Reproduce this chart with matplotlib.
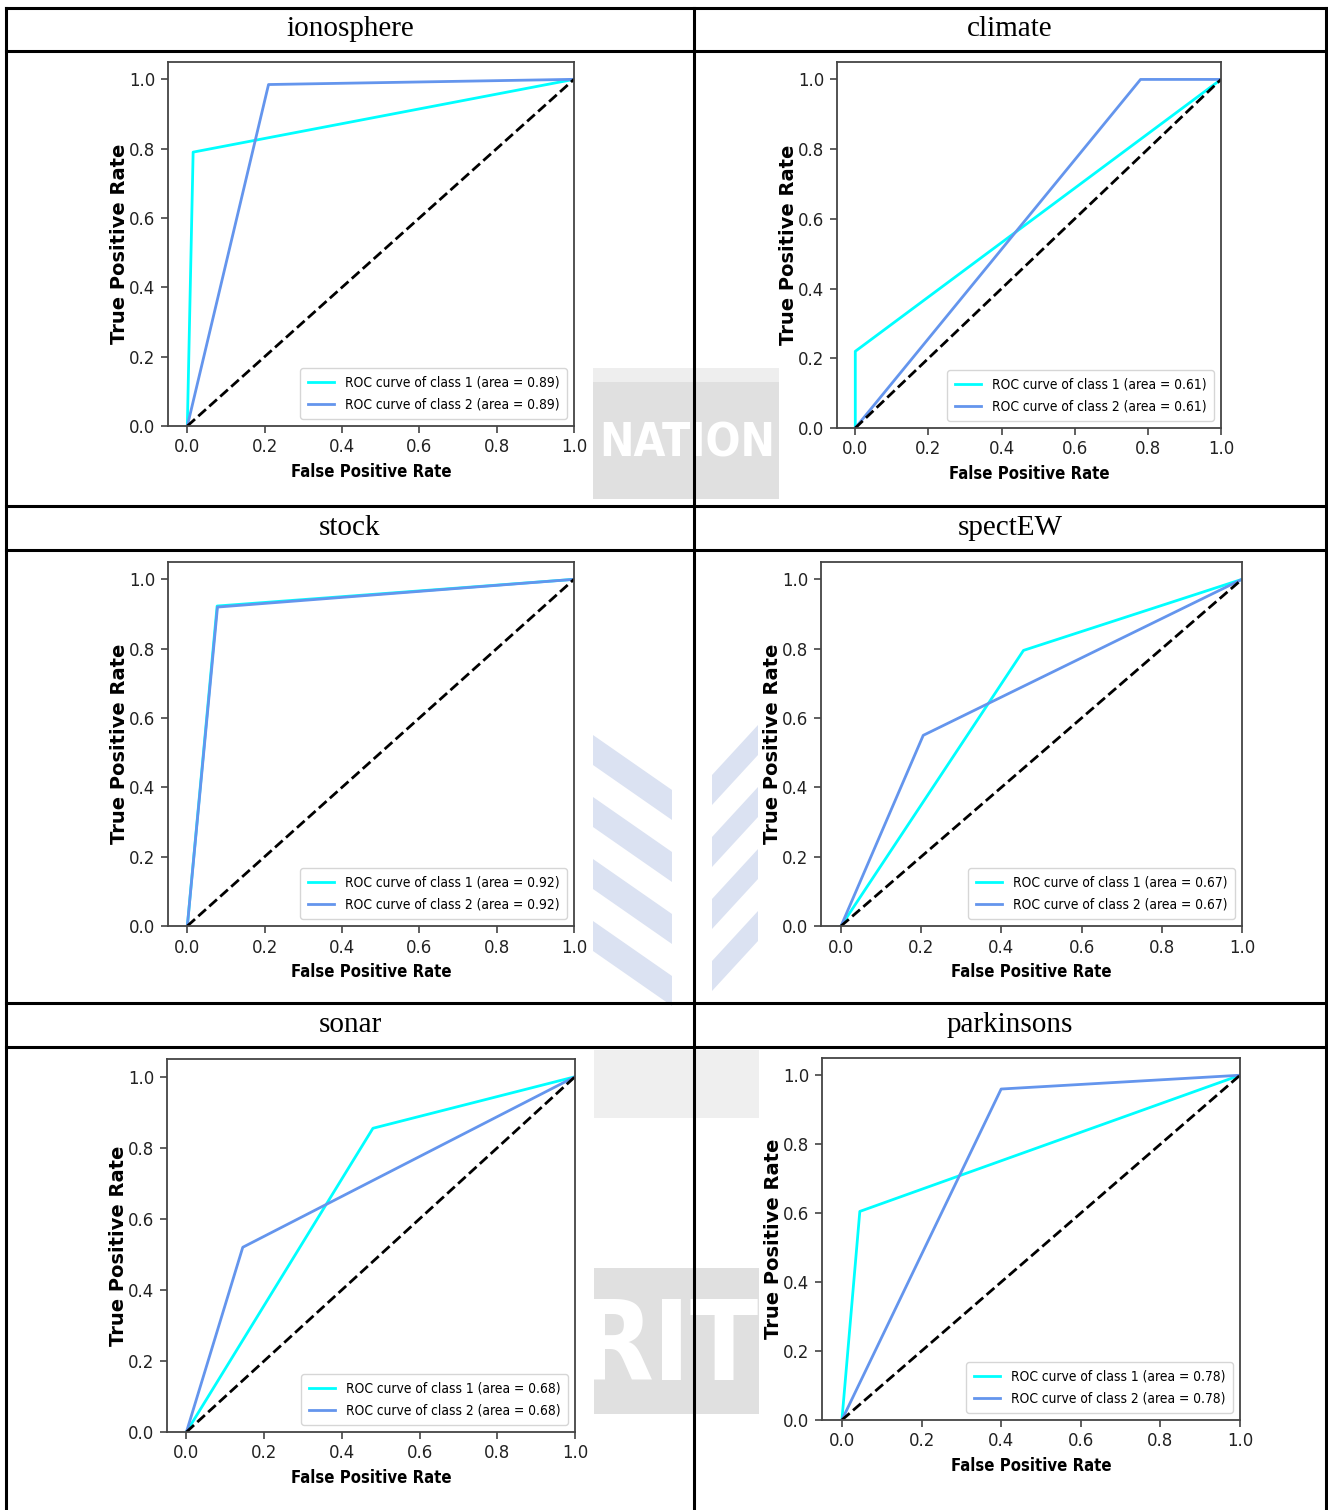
import matplotlib
matplotlib.use("Agg")
import matplotlib.pyplot as plt
from matplotlib.lines import Line2D
from matplotlib.patches import Polygon
from matplotlib.transforms import Bbox, TransformedBbox
from matplotlib import font_manager

W, H = 1328, 1510

datasets = ["ionosphere", "climate", "stock", "spectEW", "sonar", "parkinsons"]

fpr_class1 = [[0, 0.015, 1], [0, 0.0, 1], [0, 0.077, 1], [0, 0.455, 1], [0, 0.48, 1], [0, 0.045, 1]]
tpr_class1 = [[0, 0.79, 1], [0, 0.22, 1], [0, 0.923, 1], [0, 0.795, 1], [0, 0.855, 1], [0, 0.605, 1]]
fpr_class2 = [[0, 0.21, 1], [0, 0.78, 1], [0, 0.078, 1], [0, 0.205, 1], [0, 0.145, 1], [0, 0.40, 1]]
tpr_class2 = [[0, 0.985, 1], [0, 1.0, 1], [0, 0.92, 1], [0, 0.55, 1], [0, 0.52, 1], [0, 0.96, 1]]
auc_values = [0.89, 0.61, 0.92, 0.67, 0.68, 0.78]

# axes boxes in pixels: left, top, right, bottom
boxes = [(168, 62, 574, 426), (837, 62, 1221, 428),
         (168, 562, 574, 926), (821, 562, 1242, 926),
         (167, 1059, 575, 1432), (822, 1058, 1240, 1420)]


# the plot images in the source are squeezed sideways, so look for a narrow face
def find_narrow():
    prefs = ["DejaVuSansCondensed", "LiberationSansNarrow", "RobotoCondensed",
             "OpenSans_Condensed", "OpenSansCondensed", "NotoSans-Condensed", "NotoSansCondensed"]
    files = [f.fname for f in font_manager.fontManager.ttflist]
    for p in prefs:
        reg = [f for f in files if p in f.replace(" ", "").replace("-", "") or p in f]
        reg = [f for f in reg if "Italic" not in f and "Oblique" not in f]
        if reg:
            regular = [f for f in reg if "Bold" not in f and "Light" not in f and "Medium" not in f
                       and "Thin" not in f and "Black" not in f and "Semi" not in f and "Extra" not in f]
            bold = [f for f in reg if "Bold" in f and "Semi" not in f and "Extra" not in f]
            if regular:
                return regular[0], (bold[0] if bold else regular[0])
    return None, None


narrow_reg, narrow_bold = find_narrow()
if narrow_reg:
    def fp(size, bold=False):
        return font_manager.FontProperties(fname=narrow_bold if bold else narrow_reg, size=size)
    tick_size, leg_size, lab_size = 13.2, 9.9, 12
else:
    def fp(size, bold=False):
        return font_manager.FontProperties(family="DejaVu Sans", size=size,
                                           weight="bold" if bold else "normal")
    tick_size, leg_size, lab_size = 11.5, 9, 11

fig = plt.figure(figsize=(W / 100, H / 100), dpi=100)


def fx(x):
    return x / W


def fy(y):
    return 1 - y / H


def px_poly(pts, **kw):
    p = Polygon([(fx(x), fy(y)) for x, y in pts], closed=True,
                transform=fig.transFigure, lw=0, zorder=0, **kw)
    fig.add_artist(p)
    return p


def px_clip(l, t, r, b):
    return TransformedBbox(Bbox([[fx(l), fy(b)], [fx(r), fy(t)]]), fig.transFigure)


# faint watermark showing in the gaps between the plot images
px_poly([(593, 368), (779, 368), (779, 382), (593, 382)], color="#eeeeee")
px_poly([(593, 382), (779, 382), (779, 499), (593, 499)], color="#e0e0e0")
t1 = fig.text(fx(599), fy(444), "NATION", color="white", fontproperties=fp(33, bold=True),
              style="italic", va="center", ha="left", zorder=0.5)
t1.set_clip_box(px_clip(593, 382, 779, 499))
for k in range(4):
    y0 = 735 + k * 62
    px_poly([(593, y0), (672, y0 + 55), (672, y0 + 85), (593, y0 + 30)], color="#dbe2f2")
    px_poly([(758, y0 - 10), (712, y0 + 40), (712, y0 + 70), (758, y0 + 20)], color="#dbe2f2")
px_poly([(594, 1050), (759, 1050), (759, 1118), (594, 1118)], color="#efefef")
px_poly([(594, 1268), (759, 1268), (759, 1414), (594, 1414)], color="#e0e0e0")
t3 = fig.text(fx(668), fy(1350), "RIT", color="white", fontproperties=fp(80, bold=True),
              va="center", ha="center", zorder=0.5)
t3.set_clip_box(px_clip(594, 1268, 759, 1414))

# table grid
lines_h = [8, 51, 506, 550, 1003, 1047]
for y in lines_h:
    fig.add_artist(Line2D([fx(6), fx(1326)], [fy(y), fy(y)], color="black", lw=2.2))
for x in [6, 694, 1326]:
    fig.add_artist(Line2D([fx(x), fx(x)], [fy(8), fy(H)], color="black", lw=2.2))

header_y = [29, 528, 1025]
col_x = [350, 1010]

for i, name in enumerate(datasets):
    row, col = divmod(i, 2)
    fig.text(fx(col_x[col]), fy(header_y[row]), name, ha="center", va="center",
             family="Liberation Serif", fontsize=21)

    l, t, r, b = boxes[i]
    ax = fig.add_axes([fx(l), fy(b), fx(r) - fx(l), fy(t) - fy(b)])
    ax.plot(fpr_class1[i], tpr_class1[i], color="aqua", lw=2,
            label="ROC curve of class 1 (area = {0:0.2f})".format(auc_values[i]))
    ax.plot(fpr_class2[i], tpr_class2[i], color="cornflowerblue", lw=2,
            label="ROC curve of class 2 (area = {0:0.2f})".format(auc_values[i]))
    ax.plot([0, 1], [0, 1], "k--", lw=2)
    ax.set_xlim([-0.05, 1.0])
    ax.set_ylim([0.0, 1.05])
    ax.set_xticks([0, 0.2, 0.4, 0.6, 0.8, 1.0])
    ax.set_yticks([0, 0.2, 0.4, 0.6, 0.8, 1.0])
    for s in ax.spines.values():
        s.set_color("#444444")
        s.set_linewidth(1.3)
    ax.tick_params(length=5, width=1.2, color="#444444", pad=4)
    for lab in ax.get_xticklabels() + ax.get_yticklabels():
        lab.set_fontproperties(fp(tick_size))
        lab.set_color("#222222")
    ax.set_xlabel("False Positive Rate", fontproperties=fp(lab_size, bold=True), labelpad=5)
    ax.set_ylabel("True Positive Rate", fontsize=14, fontweight="bold", labelpad=0)
    ax.legend(loc="lower right", prop=fp(leg_size), handlelength=1.9,
              borderpad=0.55, labelspacing=0.6)

fig.savefig("out.png", dpi=100)
